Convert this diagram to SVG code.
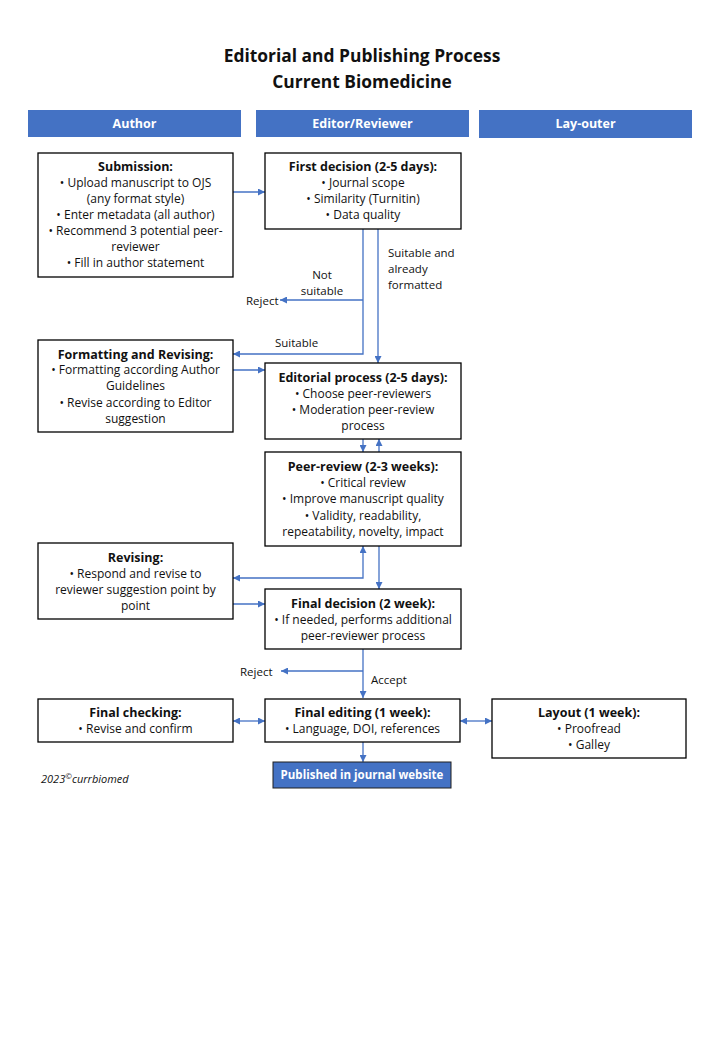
<svg xmlns="http://www.w3.org/2000/svg" width="720" height="1040" viewBox="0 0 720 1040">
<defs>
<style>
text{font-family:"Open Sans","Liberation Sans",sans-serif;fill:#111;text-anchor:middle}
.t{font-size:17.4px;font-weight:bold}
.h{font-size:12.5px;font-weight:bold;fill:#fff}
.bt{font-size:12.5px;font-weight:bold}
.b{font-size:12px}
.l{font-size:11.5px;text-anchor:start}
.box{fill:#fff;stroke:#000;stroke-width:1.3}
.hdr{fill:#4472c4}
.c{fill:none;stroke:#4472c4;stroke-width:1.3}
</style>
<marker id="a" viewBox="0 0 10 10" refX="10" refY="5" markerWidth="7" markerHeight="7" markerUnits="userSpaceOnUse" orient="auto-start-reverse"><path d="M0,0 L10,5 L0,10 z" fill="#4472c4"/></marker>
</defs>
<rect width="720" height="1040" fill="#fff"/>
<g id="title">
<text class="t" x="362" y="62">Editorial and Publishing Process</text>
<text class="t" x="362" y="88">Current Biomedicine</text>
</g>
<g id="lane-author"><rect class="hdr" x="28" y="110" width="213" height="27"/><text class="h" x="134.5" y="128">Author</text></g>
<g id="lane-editor"><rect class="hdr" x="256" y="110" width="213" height="27"/><text class="h" x="362.5" y="128">Editor/Reviewer</text></g>
<g id="lane-layouter"><rect class="hdr" x="479" y="110" width="213" height="28"/><text class="h" x="585.5" y="128">Lay-outer</text></g>

<g id="connectors">
<path class="c" d="M232,192 H265" marker-end="url(#a)"/>
<path class="c" d="M363,229 V354 H233" marker-end="url(#a)"/>
<path class="c" d="M363,300 H280" marker-end="url(#a)"/>
<path class="c" d="M378,229 V363" marker-end="url(#a)"/>
<path class="c" d="M232,370 H265" marker-end="url(#a)"/>
<path class="c" d="M363,439 V452" marker-end="url(#a)"/>
<path class="c" d="M379,452 V439" marker-end="url(#a)"/>
<path class="c" d="M233,578 H363 V546" marker-start="url(#a)" marker-end="url(#a)"/>
<path class="c" d="M379,546 V589" marker-end="url(#a)"/>
<path class="c" d="M232,604 H265" marker-end="url(#a)"/>
<path class="c" d="M363,649 V698" marker-end="url(#a)"/>
<path class="c" d="M363,671 H281" marker-end="url(#a)"/>
<path class="c" d="M233,721 H265" marker-start="url(#a)" marker-end="url(#a)"/>
<path class="c" d="M460,721 H492" marker-start="url(#a)" marker-end="url(#a)"/>
<path class="c" d="M363,742 V762" marker-end="url(#a)"/>
<text class="l" x="322" y="279" style="text-anchor:middle">Not</text>
<text class="l" x="322" y="295" style="text-anchor:middle">suitable</text>
<text class="l" x="246" y="305">Reject</text>
<text class="l" x="275" y="347">Suitable</text>
<text class="l" x="388" y="257">Suitable and</text>
<text class="l" x="388" y="273">already</text>
<text class="l" x="388" y="289">formatted</text>
<text class="l" x="240" y="676">Reject</text>
<text class="l" x="371" y="684">Accept</text>
</g>

<g id="submission"><rect class="box" x="38" y="153" width="195" height="124"/>
<text class="bt" x="135.5" y="171">Submission:</text>
<text class="b" x="135.5" y="187">• Upload manuscript to OJS</text>
<text class="b" x="135.5" y="203">(any format style)</text>
<text class="b" x="135.5" y="219">• Enter metadata (all author)</text>
<text class="b" x="135.5" y="235">• Recommend 3 potential peer-</text>
<text class="b" x="135.5" y="251">reviewer</text>
<text class="b" x="135.5" y="267">• Fill in author statement</text>
</g>
<g id="first-decision"><rect class="box" x="265" y="153" width="196" height="76"/>
<text class="bt" x="363" y="171">First decision (2-5 days):</text>
<text class="b" x="363" y="187">• Journal scope</text>
<text class="b" x="363" y="203">• Similarity (Turnitin)</text>
<text class="b" x="363" y="219">• Data quality</text>
</g>
<g id="formatting"><rect class="box" x="38" y="340" width="195" height="92"/>
<text class="bt" x="135.5" y="359">Formatting and Revising:</text>
<text class="b" x="135.5" y="374">• Formatting according Author</text>
<text class="b" x="135.5" y="390">Guidelines</text>
<text class="b" x="135.5" y="407">• Revise according to Editor</text>
<text class="b" x="135.5" y="423">suggestion</text>
</g>
<g id="editorial-process"><rect class="box" x="265" y="363" width="196" height="76"/>
<text class="bt" x="363" y="382">Editorial process (2-5 days):</text>
<text class="b" x="363" y="398">• Choose peer-reviewers</text>
<text class="b" x="363" y="414">• Moderation peer-review</text>
<text class="b" x="363" y="430">process</text>
</g>
<g id="peer-review"><rect class="box" x="265" y="452" width="196" height="94"/>
<text class="bt" x="363" y="471">Peer-review (2-3 weeks):</text>
<text class="b" x="363" y="487">• Critical review</text>
<text class="b" x="363" y="503">• Improve manuscript quality</text>
<text class="b" x="363" y="520">• Validity, readability,</text>
<text class="b" x="363" y="536">repeatability, novelty, impact</text>
</g>
<g id="revising"><rect class="box" x="38" y="543" width="195" height="76"/>
<text class="bt" x="135.5" y="562">Revising:</text>
<text class="b" x="135.5" y="578">• Respond and revise to</text>
<text class="b" x="135.5" y="594">reviewer suggestion point by</text>
<text class="b" x="135.5" y="610">point</text>
</g>
<g id="final-decision"><rect class="box" x="265" y="589" width="196" height="60"/>
<text class="bt" x="363" y="608">Final decision (2 week):</text>
<text class="b" x="363" y="624">• If needed, performs additional</text>
<text class="b" x="363" y="640">peer-reviewer process</text>
</g>
<g id="final-checking"><rect class="box" x="38" y="699" width="195" height="43"/>
<text class="bt" x="135.5" y="717">Final checking:</text>
<text class="b" x="135.5" y="733">• Revise and confirm</text>
</g>
<g id="final-editing"><rect class="box" x="265" y="699" width="195" height="43"/>
<text class="bt" x="362.5" y="717">Final editing (1 week):</text>
<text class="b" x="362.5" y="733">• Language, DOI, references</text>
</g>
<g id="layout"><rect class="box" x="492" y="699" width="194" height="59"/>
<text class="bt" x="589" y="717">Layout (1 week):</text>
<text class="b" x="589" y="733">• Proofread</text>
<text class="b" x="589" y="749">• Galley</text>
</g>
<g id="published"><rect x="273" y="762" width="178" height="26" fill="#4472c4" stroke="#1f1f1f" stroke-width="1"/>
<text class="h" x="362" y="779" style="font-size:11.5px">Published in journal website</text>
</g>
<g id="footer"><text x="41" y="783" style="font-size:11px;font-style:italic;text-anchor:start">2023<tspan dy="-4" style="font-size:8px">©</tspan><tspan dy="4">currbiomed</tspan></text></g>
</svg>
